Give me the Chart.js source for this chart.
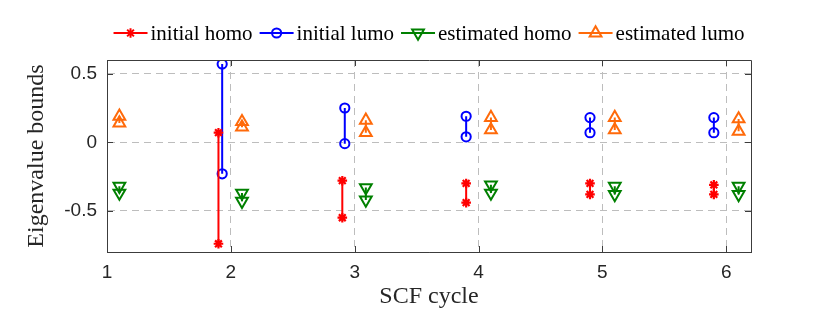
<!DOCTYPE html>
<html><head><meta charset="utf-8">
<script src="https://cdn.jsdelivr.net/npm/chart.js@4/dist/chart.umd.min.js"></script>
<style>html,body{margin:0;padding:0;background:#fff;}#wrap{width:830px;height:317px;position:relative;}</style>
</head><body><div id="wrap"><canvas id="c" width="830" height="317"></canvas></div>
<script>
// ---- data ----
const xTicks = [1, 2, 3, 4, 5, 6];
const yTicks = [-0.5, 0, 0.5];

const initialHomoX    = [1.90, 2.90, 3.90, 4.90, 5.90];
const initialHomoLow  = [-0.74, -0.55, -0.44, -0.38, -0.38];
const initialHomoHigh = [0.07, -0.28, -0.30, -0.30, -0.31];

const initialLumoX    = [1.93, 2.92, 3.90, 4.90, 5.90];
const initialLumoLow  = [-0.23, -0.01, 0.04, 0.07, 0.07];
const initialLumoHigh = [0.57, 0.25, 0.19, 0.18, 0.18];

const estimatedX       = [1.10, 2.09, 3.09, 4.10, 5.10, 6.10];
const estimatedHomoHigh = [-0.32, -0.37, -0.33, -0.31, -0.32, -0.32];
const estimatedHomoLow  = [-0.37, -0.43, -0.42, -0.37, -0.38, -0.38];
const estimatedLumoHigh = [0.19, 0.15, 0.16, 0.18, 0.18, 0.17];
const estimatedLumoLow  = [0.14, 0.11, 0.07, 0.09, 0.09, 0.08];

const seriesLabels = ['initial homo', 'initial lumo', 'estimated homo', 'estimated lumo'];

// ---- build ----
function pairs(xs, lo, hi) {
  const out = [];
  xs.forEach((x, i) => { out.push({x: x, y: lo[i]}, {x: x, y: hi[i]}, {x: x, y: null}); });
  return out;
}
const styles = [
  {color: '#ff0000', pointStyle: 'star', radius: 4.8, rotation: 0, pbw: 2.2},
  {color: '#0000ff', pointStyle: 'circle', radius: 4.6, rotation: 0, pbw: 2},
  {color: '#008000', pointStyle: 'triangle', radius: 6.8, rotation: 180, pbw: 2},
  {color: '#ff6a0a', pointStyle: 'triangle', radius: 6.8, rotation: 0, pbw: 2}
];
const dataSets = [
  pairs(initialHomoX, initialHomoLow, initialHomoHigh),
  pairs(initialLumoX, initialLumoLow, initialLumoHigh),
  pairs(estimatedX, estimatedHomoLow, estimatedHomoHigh),
  pairs(estimatedX, estimatedLumoLow, estimatedLumoHigh)
];
const datasets = dataSets.map((d, i) => ({
  label: seriesLabels[i],
  data: d,
  showLine: true,
  spanGaps: false,
  borderColor: styles[i].color,
  backgroundColor: 'rgba(0,0,0,0)',
  borderWidth: 2,
  pointStyle: styles[i].pointStyle,
  pointRadius: styles[i].radius,
  pointRotation: styles[i].rotation,
  pointBorderColor: styles[i].color,
  pointBackgroundColor: 'rgba(0,0,0,0)',
  pointBorderWidth: styles[i].pbw,
  pointHoverRadius: styles[i].radius,
  tension: 0
}));

const SERIF = '"Liberation Serif", "Times New Roman", serif';
const SANS = '"Liberation Sans", Arial, Helvetica, sans-serif';

const frameAndLegend = {
  id: 'frameAndLegend',
  afterDraw(chart) {
    const ctx = chart.ctx, a = chart.chartArea;
    const xs = chart.scales.x, ys = chart.scales.y;
    ctx.save();
    ctx.strokeStyle = '#3c3c3c';
    ctx.lineWidth = 1;
    ctx.setLineDash([]);
    ctx.beginPath();
    ctx.rect(Math.round(a.left) + 0.5, Math.round(a.top) + 0.5, Math.round(a.right - a.left), Math.round(a.bottom - a.top));
    ctx.stroke();
    // inward ticks
    ctx.beginPath();
    xTicks.forEach(v => {
      const px = Math.round(xs.getPixelForValue(v)) + 0.5;
      ctx.moveTo(px, a.bottom); ctx.lineTo(px, a.bottom - 6);
      ctx.moveTo(px, a.top); ctx.lineTo(px, a.top + 6);
    });
    yTicks.forEach(v => {
      const py = Math.round(ys.getPixelForValue(v)) + 0.5;
      ctx.moveTo(a.left, py); ctx.lineTo(a.left + 6, py);
      ctx.moveTo(a.right, py); ctx.lineTo(a.right - 6, py);
    });
    ctx.stroke();
    // legend
    ctx.font = '21px ' + SERIF;
    const lineLen = 34, gapT = 3, gapI = 7;
    const widths = seriesLabels.map(t => ctx.measureText(t).width);
    const total = widths.reduce((s, w) => s + lineLen + gapT + w, 0) + gapI * (seriesLabels.length - 1);
    let x = (a.left + a.right) / 2 - total / 2;
    const y = 33;
    seriesLabels.forEach((t, i) => {
      const st = styles[i];
      ctx.strokeStyle = st.color;
      ctx.lineWidth = 2;
      ctx.beginPath(); ctx.moveTo(x, y); ctx.lineTo(x + lineLen, y); ctx.stroke();
      ctx.fillStyle = 'rgba(0,0,0,0)';
      Chart.helpers.drawPoint(ctx, {pointStyle: st.pointStyle, radius: st.radius, rotation: st.rotation, borderWidth: st.pbw}, x + lineLen / 2, y);
      ctx.fillStyle = '#000';
      ctx.textBaseline = 'middle';
      ctx.textAlign = 'left';
      ctx.fillText(t, x + lineLen + gapT, y + 1);
      x += lineLen + gapT + widths[i] + gapI;
    });
    ctx.restore();
  }
};

new Chart(document.getElementById('c'), {
  type: 'scatter',
  data: {datasets},
  plugins: [frameAndLegend],
  options: {
    responsive: false,
    animation: false,
    devicePixelRatio: 1,
    layout: {padding: {left: 0, right: 79, top: 60, bottom: 0}},
    plugins: {legend: {display: false}, tooltip: {enabled: false}},
    scales: {
      x: {
        type: 'linear', min: 1, max: 6.2,
        afterBuildTicks: s => { s.ticks = xTicks.map(v => ({value: v})); },
        afterFit: s => { s.height = 65; },
        ticks: {color: '#262626', font: {family: SANS, size: 19}, padding: 9, callback: v => String(v), maxRotation: 0},
        grid: {color: '#bdbdbd', lineWidth: 1, drawTicks: false},
        border: {display: true, color: '#3c3c3c', dash: [7, 5]},
        title: {display: true, text: 'SCF cycle', color: '#262626', font: {family: SERIF, size: 24}, padding: {top: 0, bottom: 6}}
      },
      y: {
        type: 'linear', min: -0.8, max: 0.6,
        afterBuildTicks: s => { s.ticks = yTicks.map(v => ({value: v})); },
        afterFit: s => { s.width = 107; },
        ticks: {color: '#262626', font: {family: SANS, size: 19}, padding: 10, callback: v => String(v)},
        grid: {color: '#bdbdbd', lineWidth: 1, drawTicks: false},
        border: {display: true, color: '#3c3c3c', dash: [7, 5]},
        title: {display: true, text: 'Eigenvalue bounds', color: '#262626', font: {family: SERIF, size: 24}, padding: {top: 22, bottom: 0}}
      }
    }
  }
});
</script></body></html>
